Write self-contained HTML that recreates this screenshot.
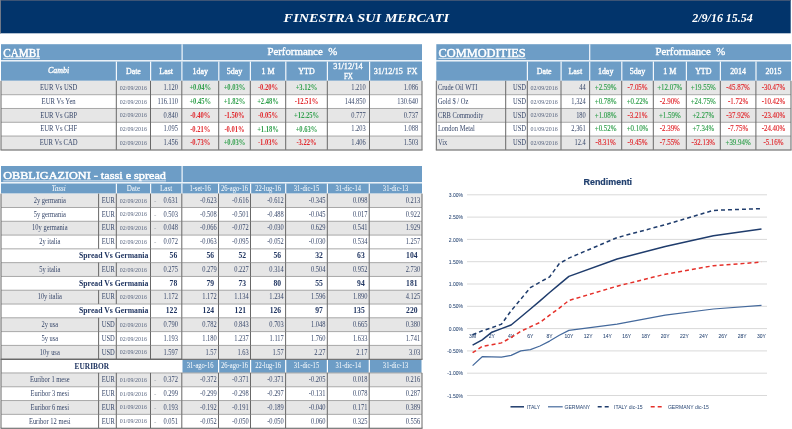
<!DOCTYPE html>
<html><head><meta charset="utf-8"><style>
html,body{margin:0;padding:0;background:#fff;}
body{width:792px;height:429px;overflow:hidden;}
svg{display:block;filter:blur(0.35px);font-family:"Liberation Serif",serif;}
</style></head><body>
<svg width="792" height="429" viewBox="0 0 792 429">
<rect x="0" y="0" width="792" height="429" fill="#fff"/>
<rect x="0" y="0" width="790.7" height="33.3" fill="#02346b"/>
<rect x="0" y="0" width="790.7" height="0.8" fill="#4d5d78"/>
<rect x="0" y="0" width="1" height="33.3" fill="#6f7888"/>
<text x="283.60" y="22.30" font-size="12.6" textLength="165.50" lengthAdjust="spacingAndGlyphs" font-weight="bold" font-style="italic" fill="#fff">FINESTRA SUI MERCATI</text>
<text x="692.30" y="22.30" font-size="12.8" textLength="60.50" lengthAdjust="spacingAndGlyphs" font-weight="bold" font-style="italic" fill="#fff">2/9/16 15.54</text>
<rect x="1" y="44.2" width="421" height="16.1" fill="#6d9dc6"/>
<rect x="1" y="60.3" width="421" height="1.2" fill="#f4f8fc"/>
<rect x="181.5" y="44.2" width="1.2" height="16.1" fill="#f4f8fc"/>
<text x="3.20" y="56.60" font-size="11.5" textLength="36.80" lengthAdjust="spacingAndGlyphs" font-weight="normal" fill="#fff" stroke="#fff" stroke-width="0.45">CAMBI</text>
<rect x="3.2" y="57.900000000000006" width="36.8" height="0.8" fill="#f4f8fc"/>
<text x="302.30" y="55.10" font-size="10.5" textLength="69.80" lengthAdjust="spacingAndGlyphs" text-anchor="middle" fill="#fff" stroke="#fff" stroke-width="0.35">Performance&#160; %</text>
<rect x="1" y="61.5" width="421" height="19.3" fill="#6d9dc6"/>
<rect x="115.8" y="61.5" width="1.2" height="19.3" fill="#f4f8fc"/>
<rect x="150.0" y="61.5" width="1.2" height="19.3" fill="#f4f8fc"/>
<rect x="181.3" y="61.5" width="1.2" height="19.3" fill="#f4f8fc"/>
<rect x="218.2" y="61.5" width="1.2" height="19.3" fill="#f4f8fc"/>
<rect x="249.8" y="61.5" width="1.2" height="19.3" fill="#f4f8fc"/>
<rect x="285.2" y="61.5" width="1.2" height="19.3" fill="#f4f8fc"/>
<rect x="326.8" y="61.5" width="1.2" height="19.3" fill="#f4f8fc"/>
<rect x="369.0" y="61.5" width="1.2" height="19.3" fill="#f4f8fc"/>
<text x="58.65" y="73.20" font-size="8.2" text-anchor="middle" font-style="italic" fill="#fff" stroke="#fff" stroke-width="0.35" textLength="21.21" lengthAdjust="spacingAndGlyphs">Cambi</text>
<text x="133.40" y="74.40" font-size="8.2" text-anchor="middle" fill="#fff" stroke="#fff" stroke-width="0.35" textLength="15.01" lengthAdjust="spacingAndGlyphs">Date</text>
<text x="166.15" y="74.40" font-size="8.2" text-anchor="middle" fill="#fff" stroke="#fff" stroke-width="0.35" textLength="13.69" lengthAdjust="spacingAndGlyphs">Last</text>
<text x="200.25" y="74.40" font-size="8.2" text-anchor="middle" fill="#fff" stroke="#fff" stroke-width="0.35" textLength="15.46" lengthAdjust="spacingAndGlyphs">1day</text>
<text x="234.50" y="74.40" font-size="8.2" text-anchor="middle" fill="#fff" stroke="#fff" stroke-width="0.35" textLength="15.46" lengthAdjust="spacingAndGlyphs">5day</text>
<text x="268.00" y="74.40" font-size="8.2" text-anchor="middle" fill="#fff" stroke="#fff" stroke-width="0.35" textLength="13.04" lengthAdjust="spacingAndGlyphs">1 M</text>
<text x="306.50" y="74.40" font-size="8.2" text-anchor="middle" fill="#fff" stroke="#fff" stroke-width="0.35" textLength="16.35" lengthAdjust="spacingAndGlyphs">YTD</text>
<text x="348.00" y="69.30" font-size="7.8" text-anchor="middle" fill="#fff" stroke="#fff" stroke-width="0.3" textLength="29.40" lengthAdjust="spacingAndGlyphs">31/12/14</text>
<text x="348.40" y="78.60" font-size="7.8" text-anchor="middle" fill="#fff" stroke="#fff" stroke-width="0.3" textLength="9.00" lengthAdjust="spacingAndGlyphs">FX</text>
<text x="373.70" y="73.90" font-size="7.8" textLength="43.80" lengthAdjust="spacingAndGlyphs" fill="#fff" stroke="#fff" stroke-width="0.3">31/12/15&#160; FX</text>
<rect x="1" y="80.8" width="421" height="13.79" fill="#e6e6e6"/>
<rect x="1" y="94.59" width="421" height="13.79" fill="#ffffff"/>
<rect x="1" y="108.38" width="421" height="13.79" fill="#e6e6e6"/>
<rect x="1" y="122.16999999999999" width="421" height="13.79" fill="#ffffff"/>
<rect x="1" y="135.95999999999998" width="421" height="13.79" fill="#e6e6e6"/>
<rect x="1" y="94.19" width="421" height="1.0" fill="#a8a8a8"/>
<rect x="1" y="107.97999999999999" width="421" height="1.0" fill="#a8a8a8"/>
<rect x="1" y="121.76999999999998" width="421" height="1.0" fill="#a8a8a8"/>
<rect x="1" y="135.55999999999997" width="421" height="1.0" fill="#a8a8a8"/>
<text x="58.65" y="90.10" font-size="7.4" text-anchor="middle" fill="#37476a" textLength="37.26" lengthAdjust="spacingAndGlyphs">EUR Vs USD</text>
<text x="133.40" y="89.80" font-size="5.3" text-anchor="middle" fill="#56637e" textLength="27.04" lengthAdjust="spacingAndGlyphs">02/09/2016</text>
<text x="178.00" y="90.10" font-size="7.4" text-anchor="end" fill="#37476a" textLength="14.49" lengthAdjust="spacingAndGlyphs">1.120</text>
<text x="200.25" y="90.30" font-size="7.8" text-anchor="middle" font-weight="bold" fill="#2f9f4b" textLength="21.75" lengthAdjust="spacingAndGlyphs">+0.04%</text>
<text x="234.50" y="90.30" font-size="7.8" text-anchor="middle" font-weight="bold" fill="#2f9f4b" textLength="21.75" lengthAdjust="spacingAndGlyphs">+0.03%</text>
<text x="268.00" y="90.30" font-size="7.8" text-anchor="middle" font-weight="bold" fill="#e1262b" textLength="20.20" lengthAdjust="spacingAndGlyphs">-0.20%</text>
<text x="306.50" y="90.30" font-size="7.8" text-anchor="middle" font-weight="bold" fill="#2f9f4b" textLength="21.75" lengthAdjust="spacingAndGlyphs">+3.12%</text>
<text x="365.70" y="90.10" font-size="7.4" text-anchor="end" fill="#37476a" textLength="14.49" lengthAdjust="spacingAndGlyphs">1.210</text>
<text x="418.20" y="90.10" font-size="7.4" text-anchor="end" fill="#37476a" textLength="14.49" lengthAdjust="spacingAndGlyphs">1.086</text>
<text x="58.65" y="103.89" font-size="7.4" text-anchor="middle" fill="#37476a" textLength="34.11" lengthAdjust="spacingAndGlyphs">EUR Vs Yen</text>
<text x="133.40" y="103.59" font-size="5.3" text-anchor="middle" fill="#56637e" textLength="27.04" lengthAdjust="spacingAndGlyphs">02/09/2016</text>
<text x="178.00" y="103.89" font-size="7.4" text-anchor="end" fill="#37476a" textLength="20.45" lengthAdjust="spacingAndGlyphs">116.110</text>
<text x="200.25" y="104.09" font-size="7.8" text-anchor="middle" font-weight="bold" fill="#2f9f4b" textLength="21.75" lengthAdjust="spacingAndGlyphs">+0.45%</text>
<text x="234.50" y="104.09" font-size="7.8" text-anchor="middle" font-weight="bold" fill="#2f9f4b" textLength="21.75" lengthAdjust="spacingAndGlyphs">+1.82%</text>
<text x="268.00" y="104.09" font-size="7.8" text-anchor="middle" font-weight="bold" fill="#2f9f4b" textLength="21.75" lengthAdjust="spacingAndGlyphs">+2.48%</text>
<text x="306.50" y="104.09" font-size="7.8" text-anchor="middle" font-weight="bold" fill="#e1262b" textLength="23.48" lengthAdjust="spacingAndGlyphs">-12.51%</text>
<text x="365.70" y="103.89" font-size="7.4" text-anchor="end" fill="#37476a" textLength="20.92" lengthAdjust="spacingAndGlyphs">144.850</text>
<text x="418.20" y="103.89" font-size="7.4" text-anchor="end" fill="#37476a" textLength="20.92" lengthAdjust="spacingAndGlyphs">130.640</text>
<text x="58.65" y="117.68" font-size="7.4" text-anchor="middle" fill="#37476a" textLength="36.89" lengthAdjust="spacingAndGlyphs">EUR Vs GBP</text>
<text x="133.40" y="117.38" font-size="5.3" text-anchor="middle" fill="#56637e" textLength="27.04" lengthAdjust="spacingAndGlyphs">02/09/2016</text>
<text x="178.00" y="117.68" font-size="7.4" text-anchor="end" fill="#37476a" textLength="14.49" lengthAdjust="spacingAndGlyphs">0.840</text>
<text x="200.25" y="117.88" font-size="7.8" text-anchor="middle" font-weight="bold" fill="#e1262b" textLength="20.20" lengthAdjust="spacingAndGlyphs">-0.40%</text>
<text x="234.50" y="117.88" font-size="7.8" text-anchor="middle" font-weight="bold" fill="#e1262b" textLength="20.20" lengthAdjust="spacingAndGlyphs">-1.50%</text>
<text x="268.00" y="117.88" font-size="7.8" text-anchor="middle" font-weight="bold" fill="#e1262b" textLength="20.20" lengthAdjust="spacingAndGlyphs">-0.05%</text>
<text x="306.50" y="117.88" font-size="7.8" text-anchor="middle" font-weight="bold" fill="#2f9f4b" textLength="25.03" lengthAdjust="spacingAndGlyphs">+12.25%</text>
<text x="365.70" y="117.68" font-size="7.4" text-anchor="end" fill="#37476a" textLength="14.49" lengthAdjust="spacingAndGlyphs">0.777</text>
<text x="418.20" y="117.68" font-size="7.4" text-anchor="end" fill="#37476a" textLength="14.49" lengthAdjust="spacingAndGlyphs">0.737</text>
<text x="58.65" y="131.47" font-size="7.4" text-anchor="middle" fill="#37476a" textLength="36.89" lengthAdjust="spacingAndGlyphs">EUR Vs CHF</text>
<text x="133.40" y="131.17" font-size="5.3" text-anchor="middle" fill="#56637e" textLength="27.04" lengthAdjust="spacingAndGlyphs">02/09/2016</text>
<text x="178.00" y="131.47" font-size="7.4" text-anchor="end" fill="#37476a" textLength="14.49" lengthAdjust="spacingAndGlyphs">1.095</text>
<text x="200.25" y="131.67" font-size="7.8" text-anchor="middle" font-weight="bold" fill="#e1262b" textLength="20.20" lengthAdjust="spacingAndGlyphs">-0.21%</text>
<text x="234.50" y="131.67" font-size="7.8" text-anchor="middle" font-weight="bold" fill="#e1262b" textLength="20.20" lengthAdjust="spacingAndGlyphs">-0.01%</text>
<text x="268.00" y="131.67" font-size="7.8" text-anchor="middle" font-weight="bold" fill="#2f9f4b" textLength="21.75" lengthAdjust="spacingAndGlyphs">+1.18%</text>
<text x="306.50" y="131.67" font-size="7.8" text-anchor="middle" font-weight="bold" fill="#2f9f4b" textLength="21.75" lengthAdjust="spacingAndGlyphs">+0.63%</text>
<text x="365.70" y="131.47" font-size="7.4" text-anchor="end" fill="#37476a" textLength="14.49" lengthAdjust="spacingAndGlyphs">1.203</text>
<text x="418.20" y="131.47" font-size="7.4" text-anchor="end" fill="#37476a" textLength="14.49" lengthAdjust="spacingAndGlyphs">1.088</text>
<text x="58.65" y="145.26" font-size="7.4" text-anchor="middle" fill="#37476a" textLength="37.99" lengthAdjust="spacingAndGlyphs">EUR Vs CAD</text>
<text x="133.40" y="144.96" font-size="5.3" text-anchor="middle" fill="#56637e" textLength="27.04" lengthAdjust="spacingAndGlyphs">02/09/2016</text>
<text x="178.00" y="145.26" font-size="7.4" text-anchor="end" fill="#37476a" textLength="14.49" lengthAdjust="spacingAndGlyphs">1.456</text>
<text x="200.25" y="145.46" font-size="7.8" text-anchor="middle" font-weight="bold" fill="#e1262b" textLength="20.20" lengthAdjust="spacingAndGlyphs">-0.73%</text>
<text x="234.50" y="145.46" font-size="7.8" text-anchor="middle" font-weight="bold" fill="#2f9f4b" textLength="21.75" lengthAdjust="spacingAndGlyphs">+0.03%</text>
<text x="268.00" y="145.46" font-size="7.8" text-anchor="middle" font-weight="bold" fill="#e1262b" textLength="20.20" lengthAdjust="spacingAndGlyphs">-1.03%</text>
<text x="306.50" y="145.46" font-size="7.8" text-anchor="middle" font-weight="bold" fill="#e1262b" textLength="20.20" lengthAdjust="spacingAndGlyphs">-3.22%</text>
<text x="365.70" y="145.26" font-size="7.4" text-anchor="end" fill="#37476a" textLength="14.49" lengthAdjust="spacingAndGlyphs">1.406</text>
<text x="418.20" y="145.26" font-size="7.4" text-anchor="end" fill="#37476a" textLength="14.49" lengthAdjust="spacingAndGlyphs">1.503</text>
<rect x="0.5" y="80.8" width="1.0" height="68.95" fill="#686868"/>
<rect x="115.8" y="80.8" width="1.0" height="68.95" fill="#686868"/>
<rect x="150.0" y="80.8" width="1.0" height="68.95" fill="#686868"/>
<rect x="181.3" y="80.8" width="1.0" height="68.95" fill="#686868"/>
<rect x="218.2" y="80.8" width="1.0" height="68.95" fill="#686868"/>
<rect x="249.8" y="80.8" width="1.0" height="68.95" fill="#686868"/>
<rect x="285.2" y="80.8" width="1.0" height="68.95" fill="#686868"/>
<rect x="326.8" y="80.8" width="1.0" height="68.95" fill="#686868"/>
<rect x="369.0" y="80.8" width="1.0" height="68.95" fill="#686868"/>
<rect x="421.5" y="80.8" width="1.0" height="68.95" fill="#686868"/>
<rect x="0.5" y="149.45" width="422.1" height="1.1" fill="#686868"/>
<rect x="436.3" y="44.2" width="354.7" height="16.1" fill="#6d9dc6"/>
<rect x="436.3" y="60.3" width="354.7" height="1.2" fill="#f4f8fc"/>
<rect x="589.1" y="44.2" width="1.2" height="16.1" fill="#f4f8fc"/>
<text x="438.50" y="56.60" font-size="11.5" textLength="87.20" lengthAdjust="spacingAndGlyphs" font-weight="normal" fill="#fff" stroke="#fff" stroke-width="0.45">COMMODITIES</text>
<rect x="438.5" y="57.900000000000006" width="87.2" height="0.8" fill="#f4f8fc"/>
<text x="690.30" y="55.10" font-size="10.5" textLength="69.80" lengthAdjust="spacingAndGlyphs" text-anchor="middle" fill="#fff" stroke="#fff" stroke-width="0.35">Performance&#160; %</text>
<rect x="436.3" y="61.5" width="354.7" height="19.3" fill="#6d9dc6"/>
<rect x="526.8" y="61.5" width="1.2" height="19.3" fill="#f4f8fc"/>
<rect x="560.5" y="61.5" width="1.2" height="19.3" fill="#f4f8fc"/>
<rect x="589.1" y="61.5" width="1.2" height="19.3" fill="#f4f8fc"/>
<rect x="621.2" y="61.5" width="1.2" height="19.3" fill="#f4f8fc"/>
<rect x="652.8" y="61.5" width="1.2" height="19.3" fill="#f4f8fc"/>
<rect x="685.8" y="61.5" width="1.2" height="19.3" fill="#f4f8fc"/>
<rect x="719.8" y="61.5" width="1.2" height="19.3" fill="#f4f8fc"/>
<rect x="755.4" y="61.5" width="1.2" height="19.3" fill="#f4f8fc"/>
<text x="544.15" y="74.40" font-size="8.2" text-anchor="middle" fill="#fff" stroke="#fff" stroke-width="0.35" textLength="15.01" lengthAdjust="spacingAndGlyphs">Date</text>
<text x="575.30" y="74.40" font-size="8.2" text-anchor="middle" fill="#fff" stroke="#fff" stroke-width="0.35" textLength="13.69" lengthAdjust="spacingAndGlyphs">Last</text>
<text x="605.65" y="74.40" font-size="8.2" text-anchor="middle" fill="#fff" stroke="#fff" stroke-width="0.35" textLength="15.46" lengthAdjust="spacingAndGlyphs">1day</text>
<text x="637.50" y="74.40" font-size="8.2" text-anchor="middle" fill="#fff" stroke="#fff" stroke-width="0.35" textLength="15.46" lengthAdjust="spacingAndGlyphs">5day</text>
<text x="669.80" y="74.40" font-size="8.2" text-anchor="middle" fill="#fff" stroke="#fff" stroke-width="0.35" textLength="13.04" lengthAdjust="spacingAndGlyphs">1 M</text>
<text x="703.30" y="74.40" font-size="8.2" text-anchor="middle" fill="#fff" stroke="#fff" stroke-width="0.35" textLength="16.35" lengthAdjust="spacingAndGlyphs">YTD</text>
<text x="738.10" y="74.40" font-size="8.2" text-anchor="middle" fill="#fff" stroke="#fff" stroke-width="0.35" textLength="15.91" lengthAdjust="spacingAndGlyphs">2014</text>
<text x="773.45" y="74.40" font-size="8.2" text-anchor="middle" fill="#fff" stroke="#fff" stroke-width="0.35" textLength="15.91" lengthAdjust="spacingAndGlyphs">2015</text>
<rect x="436.3" y="80.8" width="354.7" height="13.79" fill="#e6e6e6"/>
<rect x="436.3" y="94.59" width="354.7" height="13.79" fill="#ffffff"/>
<rect x="436.3" y="108.38" width="354.7" height="13.79" fill="#e6e6e6"/>
<rect x="436.3" y="122.16999999999999" width="354.7" height="13.79" fill="#ffffff"/>
<rect x="436.3" y="135.95999999999998" width="354.7" height="13.79" fill="#e6e6e6"/>
<rect x="436.3" y="94.19" width="354.7" height="1.0" fill="#a8a8a8"/>
<rect x="436.3" y="107.97999999999999" width="354.7" height="1.0" fill="#a8a8a8"/>
<rect x="436.3" y="121.76999999999998" width="354.7" height="1.0" fill="#a8a8a8"/>
<rect x="436.3" y="135.55999999999997" width="354.7" height="1.0" fill="#a8a8a8"/>
<text x="437.90" y="90.10" font-size="7.2" fill="#37476a" textLength="39.47" lengthAdjust="spacingAndGlyphs">Crude Oil WTI</text>
<text x="526.00" y="90.10" font-size="7.6" text-anchor="end" fill="#37476a" textLength="13.08" lengthAdjust="spacingAndGlyphs">USD</text>
<text x="544.15" y="89.80" font-size="5.3" text-anchor="middle" fill="#56637e" textLength="27.04" lengthAdjust="spacingAndGlyphs">02/09/2016</text>
<text x="585.80" y="90.10" font-size="7.4" text-anchor="end" fill="#37476a" textLength="6.44" lengthAdjust="spacingAndGlyphs">44</text>
<text x="605.65" y="90.10" font-size="8.2" text-anchor="middle" fill="#2f9f4b" stroke="#2f9f4b" stroke-width="0.15" textLength="21.68" lengthAdjust="spacingAndGlyphs">+2.59%</text>
<text x="637.50" y="90.10" font-size="8.2" text-anchor="middle" fill="#e1262b" stroke="#e1262b" stroke-width="0.15" textLength="20.09" lengthAdjust="spacingAndGlyphs">-7.05%</text>
<text x="669.80" y="90.10" font-size="8.2" text-anchor="middle" fill="#2f9f4b" stroke="#2f9f4b" stroke-width="0.15" textLength="25.12" lengthAdjust="spacingAndGlyphs">+12.07%</text>
<text x="703.30" y="90.10" font-size="8.2" text-anchor="middle" fill="#2f9f4b" stroke="#2f9f4b" stroke-width="0.15" textLength="25.12" lengthAdjust="spacingAndGlyphs">+19.55%</text>
<text x="738.10" y="90.10" font-size="8.2" text-anchor="middle" fill="#e1262b" stroke="#e1262b" stroke-width="0.15" textLength="23.53" lengthAdjust="spacingAndGlyphs">-45.87%</text>
<text x="773.45" y="90.10" font-size="8.2" text-anchor="middle" fill="#e1262b" stroke="#e1262b" stroke-width="0.15" textLength="23.53" lengthAdjust="spacingAndGlyphs">-30.47%</text>
<text x="437.90" y="103.89" font-size="7.2" fill="#37476a" textLength="30.42" lengthAdjust="spacingAndGlyphs">Gold $ / Oz</text>
<text x="526.00" y="103.89" font-size="7.6" text-anchor="end" fill="#37476a" textLength="13.08" lengthAdjust="spacingAndGlyphs">USD</text>
<text x="544.15" y="103.59" font-size="5.3" text-anchor="middle" fill="#56637e" textLength="27.04" lengthAdjust="spacingAndGlyphs">02/09/2016</text>
<text x="585.80" y="103.89" font-size="7.4" text-anchor="end" fill="#37476a" textLength="14.49" lengthAdjust="spacingAndGlyphs">1,324</text>
<text x="605.65" y="103.89" font-size="8.2" text-anchor="middle" fill="#2f9f4b" stroke="#2f9f4b" stroke-width="0.15" textLength="21.68" lengthAdjust="spacingAndGlyphs">+0.78%</text>
<text x="637.50" y="103.89" font-size="8.2" text-anchor="middle" fill="#2f9f4b" stroke="#2f9f4b" stroke-width="0.15" textLength="21.68" lengthAdjust="spacingAndGlyphs">+0.22%</text>
<text x="669.80" y="103.89" font-size="8.2" text-anchor="middle" fill="#e1262b" stroke="#e1262b" stroke-width="0.15" textLength="20.09" lengthAdjust="spacingAndGlyphs">-2.90%</text>
<text x="703.30" y="103.89" font-size="8.2" text-anchor="middle" fill="#2f9f4b" stroke="#2f9f4b" stroke-width="0.15" textLength="25.12" lengthAdjust="spacingAndGlyphs">+24.75%</text>
<text x="738.10" y="103.89" font-size="8.2" text-anchor="middle" fill="#e1262b" stroke="#e1262b" stroke-width="0.15" textLength="20.09" lengthAdjust="spacingAndGlyphs">-1.72%</text>
<text x="773.45" y="103.89" font-size="8.2" text-anchor="middle" fill="#e1262b" stroke="#e1262b" stroke-width="0.15" textLength="23.53" lengthAdjust="spacingAndGlyphs">-10.42%</text>
<text x="437.90" y="117.68" font-size="7.2" fill="#37476a" textLength="45.55" lengthAdjust="spacingAndGlyphs">CRB Commodity</text>
<text x="526.00" y="117.68" font-size="7.6" text-anchor="end" fill="#37476a" textLength="13.08" lengthAdjust="spacingAndGlyphs">USD</text>
<text x="544.15" y="117.38" font-size="5.3" text-anchor="middle" fill="#56637e" textLength="27.04" lengthAdjust="spacingAndGlyphs">02/09/2016</text>
<text x="585.80" y="117.68" font-size="7.4" text-anchor="end" fill="#37476a" textLength="9.66" lengthAdjust="spacingAndGlyphs">180</text>
<text x="605.65" y="117.68" font-size="8.2" text-anchor="middle" fill="#2f9f4b" stroke="#2f9f4b" stroke-width="0.15" textLength="21.68" lengthAdjust="spacingAndGlyphs">+1.08%</text>
<text x="637.50" y="117.68" font-size="8.2" text-anchor="middle" fill="#e1262b" stroke="#e1262b" stroke-width="0.15" textLength="20.09" lengthAdjust="spacingAndGlyphs">-3.21%</text>
<text x="669.80" y="117.68" font-size="8.2" text-anchor="middle" fill="#2f9f4b" stroke="#2f9f4b" stroke-width="0.15" textLength="21.68" lengthAdjust="spacingAndGlyphs">+1.59%</text>
<text x="703.30" y="117.68" font-size="8.2" text-anchor="middle" fill="#2f9f4b" stroke="#2f9f4b" stroke-width="0.15" textLength="21.68" lengthAdjust="spacingAndGlyphs">+2.27%</text>
<text x="738.10" y="117.68" font-size="8.2" text-anchor="middle" fill="#e1262b" stroke="#e1262b" stroke-width="0.15" textLength="23.53" lengthAdjust="spacingAndGlyphs">-37.92%</text>
<text x="773.45" y="117.68" font-size="8.2" text-anchor="middle" fill="#e1262b" stroke="#e1262b" stroke-width="0.15" textLength="23.53" lengthAdjust="spacingAndGlyphs">-23.40%</text>
<text x="437.90" y="131.47" font-size="7.2" fill="#37476a" textLength="36.89" lengthAdjust="spacingAndGlyphs">London Metal</text>
<text x="526.00" y="131.47" font-size="7.6" text-anchor="end" fill="#37476a" textLength="13.08" lengthAdjust="spacingAndGlyphs">USD</text>
<text x="544.15" y="131.17" font-size="5.3" text-anchor="middle" fill="#56637e" textLength="27.04" lengthAdjust="spacingAndGlyphs">01/09/2016</text>
<text x="585.80" y="131.47" font-size="7.4" text-anchor="end" fill="#37476a" textLength="14.49" lengthAdjust="spacingAndGlyphs">2,361</text>
<text x="605.65" y="131.47" font-size="8.2" text-anchor="middle" fill="#2f9f4b" stroke="#2f9f4b" stroke-width="0.15" textLength="21.68" lengthAdjust="spacingAndGlyphs">+0.52%</text>
<text x="637.50" y="131.47" font-size="8.2" text-anchor="middle" fill="#2f9f4b" stroke="#2f9f4b" stroke-width="0.15" textLength="21.68" lengthAdjust="spacingAndGlyphs">+0.10%</text>
<text x="669.80" y="131.47" font-size="8.2" text-anchor="middle" fill="#e1262b" stroke="#e1262b" stroke-width="0.15" textLength="20.09" lengthAdjust="spacingAndGlyphs">-2.39%</text>
<text x="703.30" y="131.47" font-size="8.2" text-anchor="middle" fill="#2f9f4b" stroke="#2f9f4b" stroke-width="0.15" textLength="21.68" lengthAdjust="spacingAndGlyphs">+7.34%</text>
<text x="738.10" y="131.47" font-size="8.2" text-anchor="middle" fill="#e1262b" stroke="#e1262b" stroke-width="0.15" textLength="20.09" lengthAdjust="spacingAndGlyphs">-7.75%</text>
<text x="773.45" y="131.47" font-size="8.2" text-anchor="middle" fill="#e1262b" stroke="#e1262b" stroke-width="0.15" textLength="23.53" lengthAdjust="spacingAndGlyphs">-24.40%</text>
<text x="437.90" y="145.26" font-size="7.2" fill="#37476a" textLength="9.33" lengthAdjust="spacingAndGlyphs">Vix</text>
<text x="526.00" y="145.26" font-size="7.6" text-anchor="end" fill="#37476a" textLength="13.08" lengthAdjust="spacingAndGlyphs">USD</text>
<text x="544.15" y="144.96" font-size="5.3" text-anchor="middle" fill="#56637e" textLength="27.04" lengthAdjust="spacingAndGlyphs">02/09/2016</text>
<text x="585.80" y="145.26" font-size="7.4" text-anchor="end" fill="#37476a" textLength="11.27" lengthAdjust="spacingAndGlyphs">12.4</text>
<text x="605.65" y="145.26" font-size="8.2" text-anchor="middle" fill="#e1262b" stroke="#e1262b" stroke-width="0.15" textLength="20.09" lengthAdjust="spacingAndGlyphs">-8.31%</text>
<text x="637.50" y="145.26" font-size="8.2" text-anchor="middle" fill="#e1262b" stroke="#e1262b" stroke-width="0.15" textLength="20.09" lengthAdjust="spacingAndGlyphs">-9.45%</text>
<text x="669.80" y="145.26" font-size="8.2" text-anchor="middle" fill="#e1262b" stroke="#e1262b" stroke-width="0.15" textLength="20.09" lengthAdjust="spacingAndGlyphs">-7.55%</text>
<text x="703.30" y="145.26" font-size="8.2" text-anchor="middle" fill="#e1262b" stroke="#e1262b" stroke-width="0.15" textLength="23.53" lengthAdjust="spacingAndGlyphs">-32.13%</text>
<text x="738.10" y="145.26" font-size="8.2" text-anchor="middle" fill="#2f9f4b" stroke="#2f9f4b" stroke-width="0.15" textLength="25.12" lengthAdjust="spacingAndGlyphs">+39.94%</text>
<text x="773.45" y="145.26" font-size="8.2" text-anchor="middle" fill="#e1262b" stroke="#e1262b" stroke-width="0.15" textLength="20.09" lengthAdjust="spacingAndGlyphs">-5.16%</text>
<rect x="435.8" y="80.8" width="1.0" height="68.95" fill="#686868"/>
<rect x="505.2" y="80.8" width="1.0" height="68.95" fill="#686868"/>
<rect x="526.8" y="80.8" width="1.0" height="68.95" fill="#686868"/>
<rect x="560.5" y="80.8" width="1.0" height="68.95" fill="#686868"/>
<rect x="589.1" y="80.8" width="1.0" height="68.95" fill="#686868"/>
<rect x="621.2" y="80.8" width="1.0" height="68.95" fill="#686868"/>
<rect x="652.8" y="80.8" width="1.0" height="68.95" fill="#686868"/>
<rect x="685.8" y="80.8" width="1.0" height="68.95" fill="#686868"/>
<rect x="719.8" y="80.8" width="1.0" height="68.95" fill="#686868"/>
<rect x="755.4" y="80.8" width="1.0" height="68.95" fill="#686868"/>
<rect x="790.5" y="80.8" width="1.0" height="68.95" fill="#686868"/>
<rect x="435.8" y="149.45" width="355.8" height="1.1" fill="#686868"/>
<rect x="1" y="166" width="421" height="16.3" fill="#6d9dc6"/>
<rect x="1" y="182.3" width="421" height="1.2" fill="#f4f8fc"/>
<rect x="181.5" y="166" width="1.2" height="16.3" fill="#f4f8fc"/>
<text x="3.20" y="178.70" font-size="10.4" textLength="162.80" lengthAdjust="spacingAndGlyphs" font-weight="normal" fill="#fff" stroke="#fff" stroke-width="0.45">OBBLIGAZIONI - tassi e spread</text>
<rect x="3.2" y="180.5" width="162.8" height="0.8" fill="#f4f8fc"/>
<rect x="1" y="183.5" width="421" height="10.1" fill="#6d9dc6"/>
<rect x="115.8" y="183.5" width="1.2" height="10.1" fill="#f4f8fc"/>
<rect x="150.0" y="183.5" width="1.2" height="10.1" fill="#f4f8fc"/>
<rect x="181.3" y="183.5" width="1.2" height="10.1" fill="#f4f8fc"/>
<rect x="218.0" y="183.5" width="1.2" height="10.1" fill="#f4f8fc"/>
<rect x="250.0" y="183.5" width="1.2" height="10.1" fill="#f4f8fc"/>
<rect x="285.1" y="183.5" width="1.2" height="10.1" fill="#f4f8fc"/>
<rect x="326.8" y="183.5" width="1.2" height="10.1" fill="#f4f8fc"/>
<rect x="368.7" y="183.5" width="1.2" height="10.1" fill="#f4f8fc"/>
<text x="58.65" y="191.30" font-size="7.5" text-anchor="middle" font-style="italic" fill="#fff" textLength="14.40" lengthAdjust="spacingAndGlyphs">Tassi</text>
<text x="133.40" y="191.30" font-size="7.5" text-anchor="middle" fill="#fff" textLength="13.45" lengthAdjust="spacingAndGlyphs">Date</text>
<text x="166.15" y="191.30" font-size="7.5" text-anchor="middle" fill="#fff" textLength="12.27" lengthAdjust="spacingAndGlyphs">Last</text>
<text x="200.15" y="191.20" font-size="7.8" text-anchor="middle" fill="#fff" textLength="21.47" lengthAdjust="spacingAndGlyphs">1-set-16</text>
<text x="234.50" y="191.20" font-size="7.8" text-anchor="middle" fill="#fff" textLength="26.93" lengthAdjust="spacingAndGlyphs">26-ago-16</text>
<text x="268.05" y="191.20" font-size="7.8" text-anchor="middle" fill="#fff" textLength="25.84" lengthAdjust="spacingAndGlyphs">22-lug-16</text>
<text x="306.45" y="191.20" font-size="7.8" text-anchor="middle" fill="#fff" textLength="25.47" lengthAdjust="spacingAndGlyphs">31-dic-15</text>
<text x="348.25" y="191.20" font-size="7.8" text-anchor="middle" fill="#fff" textLength="25.47" lengthAdjust="spacingAndGlyphs">31-dic-14</text>
<text x="395.60" y="191.20" font-size="7.8" text-anchor="middle" fill="#fff" textLength="25.47" lengthAdjust="spacingAndGlyphs">31-dic-13</text>
<rect x="1" y="193.6" width="421" height="13.79" fill="#e6e6e6"/>
<rect x="1" y="207.39" width="421" height="13.79" fill="#ffffff"/>
<rect x="1" y="221.18" width="421" height="13.79" fill="#e6e6e6"/>
<rect x="1" y="234.97" width="421" height="13.79" fill="#ffffff"/>
<rect x="1" y="248.76" width="421" height="13.79" fill="#ffffff"/>
<rect x="1" y="262.54999999999995" width="421" height="13.79" fill="#e6e6e6"/>
<rect x="1" y="276.34" width="421" height="13.79" fill="#ffffff"/>
<rect x="1" y="290.13" width="421" height="13.79" fill="#e6e6e6"/>
<rect x="1" y="303.91999999999996" width="421" height="13.79" fill="#ffffff"/>
<rect x="1" y="317.71" width="421" height="13.79" fill="#e6e6e6"/>
<rect x="1" y="331.5" width="421" height="13.79" fill="#ffffff"/>
<rect x="1" y="345.28999999999996" width="421" height="13.79" fill="#e6e6e6"/>
<rect x="1" y="359.08" width="421" height="13.79" fill="#ffffff"/>
<rect x="1" y="372.87" width="421" height="13.79" fill="#e6e6e6"/>
<rect x="1" y="386.65999999999997" width="421" height="13.79" fill="#ffffff"/>
<rect x="1" y="400.45" width="421" height="13.79" fill="#e6e6e6"/>
<rect x="1" y="414.24" width="421" height="13.79" fill="#ffffff"/>
<rect x="1" y="206.98999999999998" width="421" height="1.0" fill="#a8a8a8"/>
<rect x="1" y="220.78" width="421" height="1.0" fill="#a8a8a8"/>
<rect x="1" y="234.57" width="421" height="1.0" fill="#a8a8a8"/>
<rect x="1" y="248.35999999999999" width="421" height="1.0" fill="#a8a8a8"/>
<rect x="1" y="262.15" width="421" height="1.0" fill="#a8a8a8"/>
<rect x="1" y="275.94" width="421" height="1.0" fill="#a8a8a8"/>
<rect x="1" y="289.73" width="421" height="1.0" fill="#a8a8a8"/>
<rect x="1" y="303.52" width="421" height="1.0" fill="#a8a8a8"/>
<rect x="1" y="317.31" width="421" height="1.0" fill="#a8a8a8"/>
<rect x="1" y="331.1" width="421" height="1.0" fill="#a8a8a8"/>
<rect x="1" y="344.89" width="421" height="1.0" fill="#a8a8a8"/>
<rect x="1" y="386.26" width="421" height="1.0" fill="#a8a8a8"/>
<rect x="1" y="400.05" width="421" height="1.0" fill="#a8a8a8"/>
<rect x="1" y="413.84000000000003" width="421" height="1.0" fill="#a8a8a8"/>
<rect x="182.5" y="359.58" width="35.5" height="13.29" fill="#6d9dc6"/>
<rect x="219.2" y="359.58" width="30.8" height="13.29" fill="#6d9dc6"/>
<rect x="251.2" y="359.58" width="33.9" height="13.29" fill="#6d9dc6"/>
<rect x="286.3" y="359.58" width="40.5" height="13.29" fill="#6d9dc6"/>
<rect x="328.0" y="359.58" width="40.7" height="13.29" fill="#6d9dc6"/>
<rect x="369.9" y="359.58" width="51.6" height="13.29" fill="#6d9dc6"/>
<rect x="1" y="358.68" width="181" height="1.2" fill="#686868"/>
<rect x="1" y="372.47" width="421" height="1.0" fill="#a8a8a8"/>
<text x="49.80" y="202.90" font-size="7.2" text-anchor="middle" fill="#37476a" textLength="32.21" lengthAdjust="spacingAndGlyphs">2y germania</text>
<text x="114.80" y="202.90" font-size="7.4" text-anchor="end" fill="#37476a" textLength="13.02" lengthAdjust="spacingAndGlyphs">EUR</text>
<text x="133.40" y="202.60" font-size="5.3" text-anchor="middle" fill="#56637e" textLength="27.04" lengthAdjust="spacingAndGlyphs">02/09/2016</text>
<text x="154.00" y="202.90" font-size="7" fill="#9aa0aa">-</text>
<text x="178.00" y="202.90" font-size="7.4" text-anchor="end" fill="#37476a" textLength="14.49" lengthAdjust="spacingAndGlyphs">0.631</text>
<text x="216.70" y="202.90" font-size="7.4" text-anchor="end" fill="#37476a" textLength="16.63" lengthAdjust="spacingAndGlyphs">-0.623</text>
<text x="248.70" y="202.90" font-size="7.4" text-anchor="end" fill="#37476a" textLength="16.63" lengthAdjust="spacingAndGlyphs">-0.616</text>
<text x="283.80" y="202.90" font-size="7.4" text-anchor="end" fill="#37476a" textLength="16.63" lengthAdjust="spacingAndGlyphs">-0.612</text>
<text x="325.50" y="202.90" font-size="7.4" text-anchor="end" fill="#37476a" textLength="16.63" lengthAdjust="spacingAndGlyphs">-0.345</text>
<text x="367.40" y="202.90" font-size="7.4" text-anchor="end" fill="#37476a" textLength="14.49" lengthAdjust="spacingAndGlyphs">0.098</text>
<text x="420.20" y="202.90" font-size="7.4" text-anchor="end" fill="#37476a" textLength="14.49" lengthAdjust="spacingAndGlyphs">0.213</text>
<rect x="0.5" y="193.6" width="1.0" height="13.79" fill="#686868"/>
<rect x="98.1" y="193.6" width="1.0" height="13.79" fill="#686868"/>
<rect x="115.8" y="193.6" width="1.0" height="13.79" fill="#686868"/>
<rect x="150.0" y="193.6" width="1.0" height="13.79" fill="#686868"/>
<rect x="181.3" y="193.6" width="1.0" height="13.79" fill="#686868"/>
<rect x="218.0" y="193.6" width="1.0" height="13.79" fill="#686868"/>
<rect x="250.0" y="193.6" width="1.0" height="13.79" fill="#686868"/>
<rect x="285.1" y="193.6" width="1.0" height="13.79" fill="#686868"/>
<rect x="326.8" y="193.6" width="1.0" height="13.79" fill="#686868"/>
<rect x="368.7" y="193.6" width="1.0" height="13.79" fill="#686868"/>
<rect x="421.5" y="193.6" width="1.0" height="13.79" fill="#686868"/>
<text x="49.80" y="216.69" font-size="7.2" text-anchor="middle" fill="#37476a" textLength="32.21" lengthAdjust="spacingAndGlyphs">5y germania</text>
<text x="114.80" y="216.69" font-size="7.4" text-anchor="end" fill="#37476a" textLength="13.02" lengthAdjust="spacingAndGlyphs">EUR</text>
<text x="133.40" y="216.39" font-size="5.3" text-anchor="middle" fill="#56637e" textLength="27.04" lengthAdjust="spacingAndGlyphs">02/09/2016</text>
<text x="154.00" y="216.69" font-size="7" fill="#9aa0aa">-</text>
<text x="178.00" y="216.69" font-size="7.4" text-anchor="end" fill="#37476a" textLength="14.49" lengthAdjust="spacingAndGlyphs">0.503</text>
<text x="216.70" y="216.69" font-size="7.4" text-anchor="end" fill="#37476a" textLength="16.63" lengthAdjust="spacingAndGlyphs">-0.508</text>
<text x="248.70" y="216.69" font-size="7.4" text-anchor="end" fill="#37476a" textLength="16.63" lengthAdjust="spacingAndGlyphs">-0.501</text>
<text x="283.80" y="216.69" font-size="7.4" text-anchor="end" fill="#37476a" textLength="16.63" lengthAdjust="spacingAndGlyphs">-0.488</text>
<text x="325.50" y="216.69" font-size="7.4" text-anchor="end" fill="#37476a" textLength="16.63" lengthAdjust="spacingAndGlyphs">-0.045</text>
<text x="367.40" y="216.69" font-size="7.4" text-anchor="end" fill="#37476a" textLength="14.49" lengthAdjust="spacingAndGlyphs">0.017</text>
<text x="420.20" y="216.69" font-size="7.4" text-anchor="end" fill="#37476a" textLength="14.49" lengthAdjust="spacingAndGlyphs">0.922</text>
<rect x="0.5" y="207.39" width="1.0" height="13.79" fill="#686868"/>
<rect x="98.1" y="207.39" width="1.0" height="13.79" fill="#686868"/>
<rect x="115.8" y="207.39" width="1.0" height="13.79" fill="#686868"/>
<rect x="150.0" y="207.39" width="1.0" height="13.79" fill="#686868"/>
<rect x="181.3" y="207.39" width="1.0" height="13.79" fill="#686868"/>
<rect x="218.0" y="207.39" width="1.0" height="13.79" fill="#686868"/>
<rect x="250.0" y="207.39" width="1.0" height="13.79" fill="#686868"/>
<rect x="285.1" y="207.39" width="1.0" height="13.79" fill="#686868"/>
<rect x="326.8" y="207.39" width="1.0" height="13.79" fill="#686868"/>
<rect x="368.7" y="207.39" width="1.0" height="13.79" fill="#686868"/>
<rect x="421.5" y="207.39" width="1.0" height="13.79" fill="#686868"/>
<text x="49.80" y="230.48" font-size="7.2" text-anchor="middle" fill="#37476a" textLength="35.45" lengthAdjust="spacingAndGlyphs">10y germania</text>
<text x="114.80" y="230.48" font-size="7.4" text-anchor="end" fill="#37476a" textLength="13.02" lengthAdjust="spacingAndGlyphs">EUR</text>
<text x="133.40" y="230.18" font-size="5.3" text-anchor="middle" fill="#56637e" textLength="27.04" lengthAdjust="spacingAndGlyphs">02/09/2016</text>
<text x="154.00" y="230.48" font-size="7" fill="#9aa0aa">-</text>
<text x="178.00" y="230.48" font-size="7.4" text-anchor="end" fill="#37476a" textLength="14.49" lengthAdjust="spacingAndGlyphs">0.048</text>
<text x="216.70" y="230.48" font-size="7.4" text-anchor="end" fill="#37476a" textLength="16.63" lengthAdjust="spacingAndGlyphs">-0.066</text>
<text x="248.70" y="230.48" font-size="7.4" text-anchor="end" fill="#37476a" textLength="16.63" lengthAdjust="spacingAndGlyphs">-0.072</text>
<text x="283.80" y="230.48" font-size="7.4" text-anchor="end" fill="#37476a" textLength="16.63" lengthAdjust="spacingAndGlyphs">-0.030</text>
<text x="325.50" y="230.48" font-size="7.4" text-anchor="end" fill="#37476a" textLength="14.49" lengthAdjust="spacingAndGlyphs">0.629</text>
<text x="367.40" y="230.48" font-size="7.4" text-anchor="end" fill="#37476a" textLength="14.49" lengthAdjust="spacingAndGlyphs">0.541</text>
<text x="420.20" y="230.48" font-size="7.4" text-anchor="end" fill="#37476a" textLength="14.49" lengthAdjust="spacingAndGlyphs">1.929</text>
<rect x="0.5" y="221.18" width="1.0" height="13.79" fill="#686868"/>
<rect x="98.1" y="221.18" width="1.0" height="13.79" fill="#686868"/>
<rect x="115.8" y="221.18" width="1.0" height="13.79" fill="#686868"/>
<rect x="150.0" y="221.18" width="1.0" height="13.79" fill="#686868"/>
<rect x="181.3" y="221.18" width="1.0" height="13.79" fill="#686868"/>
<rect x="218.0" y="221.18" width="1.0" height="13.79" fill="#686868"/>
<rect x="250.0" y="221.18" width="1.0" height="13.79" fill="#686868"/>
<rect x="285.1" y="221.18" width="1.0" height="13.79" fill="#686868"/>
<rect x="326.8" y="221.18" width="1.0" height="13.79" fill="#686868"/>
<rect x="368.7" y="221.18" width="1.0" height="13.79" fill="#686868"/>
<rect x="421.5" y="221.18" width="1.0" height="13.79" fill="#686868"/>
<text x="49.80" y="244.27" font-size="7.2" text-anchor="middle" fill="#37476a" textLength="21.05" lengthAdjust="spacingAndGlyphs">2y italia</text>
<text x="114.80" y="244.27" font-size="7.4" text-anchor="end" fill="#37476a" textLength="13.02" lengthAdjust="spacingAndGlyphs">EUR</text>
<text x="133.40" y="243.97" font-size="5.3" text-anchor="middle" fill="#56637e" textLength="27.04" lengthAdjust="spacingAndGlyphs">02/09/2016</text>
<text x="154.00" y="244.27" font-size="7" fill="#9aa0aa">-</text>
<text x="178.00" y="244.27" font-size="7.4" text-anchor="end" fill="#37476a" textLength="14.49" lengthAdjust="spacingAndGlyphs">0.072</text>
<text x="216.70" y="244.27" font-size="7.4" text-anchor="end" fill="#37476a" textLength="16.63" lengthAdjust="spacingAndGlyphs">-0.063</text>
<text x="248.70" y="244.27" font-size="7.4" text-anchor="end" fill="#37476a" textLength="16.63" lengthAdjust="spacingAndGlyphs">-0.095</text>
<text x="283.80" y="244.27" font-size="7.4" text-anchor="end" fill="#37476a" textLength="16.63" lengthAdjust="spacingAndGlyphs">-0.052</text>
<text x="325.50" y="244.27" font-size="7.4" text-anchor="end" fill="#37476a" textLength="16.63" lengthAdjust="spacingAndGlyphs">-0.030</text>
<text x="367.40" y="244.27" font-size="7.4" text-anchor="end" fill="#37476a" textLength="14.49" lengthAdjust="spacingAndGlyphs">0.534</text>
<text x="420.20" y="244.27" font-size="7.4" text-anchor="end" fill="#37476a" textLength="14.49" lengthAdjust="spacingAndGlyphs">1.257</text>
<rect x="0.5" y="234.97" width="1.0" height="13.79" fill="#686868"/>
<rect x="98.1" y="234.97" width="1.0" height="13.79" fill="#686868"/>
<rect x="115.8" y="234.97" width="1.0" height="13.79" fill="#686868"/>
<rect x="150.0" y="234.97" width="1.0" height="13.79" fill="#686868"/>
<rect x="181.3" y="234.97" width="1.0" height="13.79" fill="#686868"/>
<rect x="218.0" y="234.97" width="1.0" height="13.79" fill="#686868"/>
<rect x="250.0" y="234.97" width="1.0" height="13.79" fill="#686868"/>
<rect x="285.1" y="234.97" width="1.0" height="13.79" fill="#686868"/>
<rect x="326.8" y="234.97" width="1.0" height="13.79" fill="#686868"/>
<rect x="368.7" y="234.97" width="1.0" height="13.79" fill="#686868"/>
<rect x="421.5" y="234.97" width="1.0" height="13.79" fill="#686868"/>
<text x="148.30" y="258.06" font-size="8" textLength="69.30" lengthAdjust="spacingAndGlyphs" text-anchor="end" font-weight="bold" fill="#1f3460">Spread Vs Germania</text>
<text x="177.20" y="258.06" font-size="8" text-anchor="end" font-weight="bold" fill="#1f3460" textLength="7.60" lengthAdjust="spacingAndGlyphs">56</text>
<text x="214.00" y="258.06" font-size="8" text-anchor="end" font-weight="bold" fill="#1f3460" textLength="7.60" lengthAdjust="spacingAndGlyphs">56</text>
<text x="246.00" y="258.06" font-size="8" text-anchor="end" font-weight="bold" fill="#1f3460" textLength="7.60" lengthAdjust="spacingAndGlyphs">52</text>
<text x="281.10" y="258.06" font-size="8" text-anchor="end" font-weight="bold" fill="#1f3460" textLength="7.60" lengthAdjust="spacingAndGlyphs">56</text>
<text x="322.80" y="258.06" font-size="8" text-anchor="end" font-weight="bold" fill="#1f3460" textLength="7.60" lengthAdjust="spacingAndGlyphs">32</text>
<text x="364.70" y="258.06" font-size="8" text-anchor="end" font-weight="bold" fill="#1f3460" textLength="7.60" lengthAdjust="spacingAndGlyphs">63</text>
<text x="417.50" y="258.06" font-size="8" text-anchor="end" font-weight="bold" fill="#1f3460" textLength="11.40" lengthAdjust="spacingAndGlyphs">104</text>
<rect x="0.5" y="248.76" width="1.0" height="13.79" fill="#686868"/>
<rect x="150.0" y="248.76" width="1.0" height="13.79" fill="#686868"/>
<rect x="181.3" y="248.76" width="1.0" height="13.79" fill="#686868"/>
<rect x="218.0" y="248.76" width="1.0" height="13.79" fill="#686868"/>
<rect x="250.0" y="248.76" width="1.0" height="13.79" fill="#686868"/>
<rect x="285.1" y="248.76" width="1.0" height="13.79" fill="#686868"/>
<rect x="326.8" y="248.76" width="1.0" height="13.79" fill="#686868"/>
<rect x="368.7" y="248.76" width="1.0" height="13.79" fill="#686868"/>
<rect x="421.5" y="248.76" width="1.0" height="13.79" fill="#686868"/>
<text x="49.80" y="271.85" font-size="7.2" text-anchor="middle" fill="#37476a" textLength="21.05" lengthAdjust="spacingAndGlyphs">5y italia</text>
<text x="114.80" y="271.85" font-size="7.4" text-anchor="end" fill="#37476a" textLength="13.02" lengthAdjust="spacingAndGlyphs">EUR</text>
<text x="133.40" y="271.55" font-size="5.3" text-anchor="middle" fill="#56637e" textLength="27.04" lengthAdjust="spacingAndGlyphs">02/09/2016</text>
<text x="178.00" y="271.85" font-size="7.4" text-anchor="end" fill="#37476a" textLength="14.49" lengthAdjust="spacingAndGlyphs">0.275</text>
<text x="216.70" y="271.85" font-size="7.4" text-anchor="end" fill="#37476a" textLength="14.49" lengthAdjust="spacingAndGlyphs">0.279</text>
<text x="248.70" y="271.85" font-size="7.4" text-anchor="end" fill="#37476a" textLength="14.49" lengthAdjust="spacingAndGlyphs">0.227</text>
<text x="283.80" y="271.85" font-size="7.4" text-anchor="end" fill="#37476a" textLength="14.49" lengthAdjust="spacingAndGlyphs">0.314</text>
<text x="325.50" y="271.85" font-size="7.4" text-anchor="end" fill="#37476a" textLength="14.49" lengthAdjust="spacingAndGlyphs">0.504</text>
<text x="367.40" y="271.85" font-size="7.4" text-anchor="end" fill="#37476a" textLength="14.49" lengthAdjust="spacingAndGlyphs">0.952</text>
<text x="420.20" y="271.85" font-size="7.4" text-anchor="end" fill="#37476a" textLength="14.49" lengthAdjust="spacingAndGlyphs">2.730</text>
<rect x="0.5" y="262.54999999999995" width="1.0" height="13.79" fill="#686868"/>
<rect x="98.1" y="262.54999999999995" width="1.0" height="13.79" fill="#686868"/>
<rect x="115.8" y="262.54999999999995" width="1.0" height="13.79" fill="#686868"/>
<rect x="150.0" y="262.54999999999995" width="1.0" height="13.79" fill="#686868"/>
<rect x="181.3" y="262.54999999999995" width="1.0" height="13.79" fill="#686868"/>
<rect x="218.0" y="262.54999999999995" width="1.0" height="13.79" fill="#686868"/>
<rect x="250.0" y="262.54999999999995" width="1.0" height="13.79" fill="#686868"/>
<rect x="285.1" y="262.54999999999995" width="1.0" height="13.79" fill="#686868"/>
<rect x="326.8" y="262.54999999999995" width="1.0" height="13.79" fill="#686868"/>
<rect x="368.7" y="262.54999999999995" width="1.0" height="13.79" fill="#686868"/>
<rect x="421.5" y="262.54999999999995" width="1.0" height="13.79" fill="#686868"/>
<text x="148.30" y="285.64" font-size="8" textLength="69.30" lengthAdjust="spacingAndGlyphs" text-anchor="end" font-weight="bold" fill="#1f3460">Spread Vs Germania</text>
<text x="177.20" y="285.64" font-size="8" text-anchor="end" font-weight="bold" fill="#1f3460" textLength="7.60" lengthAdjust="spacingAndGlyphs">78</text>
<text x="214.00" y="285.64" font-size="8" text-anchor="end" font-weight="bold" fill="#1f3460" textLength="7.60" lengthAdjust="spacingAndGlyphs">79</text>
<text x="246.00" y="285.64" font-size="8" text-anchor="end" font-weight="bold" fill="#1f3460" textLength="7.60" lengthAdjust="spacingAndGlyphs">73</text>
<text x="281.10" y="285.64" font-size="8" text-anchor="end" font-weight="bold" fill="#1f3460" textLength="7.60" lengthAdjust="spacingAndGlyphs">80</text>
<text x="322.80" y="285.64" font-size="8" text-anchor="end" font-weight="bold" fill="#1f3460" textLength="7.60" lengthAdjust="spacingAndGlyphs">55</text>
<text x="364.70" y="285.64" font-size="8" text-anchor="end" font-weight="bold" fill="#1f3460" textLength="7.60" lengthAdjust="spacingAndGlyphs">94</text>
<text x="417.50" y="285.64" font-size="8" text-anchor="end" font-weight="bold" fill="#1f3460" textLength="11.40" lengthAdjust="spacingAndGlyphs">181</text>
<rect x="0.5" y="276.34" width="1.0" height="13.79" fill="#686868"/>
<rect x="150.0" y="276.34" width="1.0" height="13.79" fill="#686868"/>
<rect x="181.3" y="276.34" width="1.0" height="13.79" fill="#686868"/>
<rect x="218.0" y="276.34" width="1.0" height="13.79" fill="#686868"/>
<rect x="250.0" y="276.34" width="1.0" height="13.79" fill="#686868"/>
<rect x="285.1" y="276.34" width="1.0" height="13.79" fill="#686868"/>
<rect x="326.8" y="276.34" width="1.0" height="13.79" fill="#686868"/>
<rect x="368.7" y="276.34" width="1.0" height="13.79" fill="#686868"/>
<rect x="421.5" y="276.34" width="1.0" height="13.79" fill="#686868"/>
<text x="49.80" y="299.43" font-size="7.2" text-anchor="middle" fill="#37476a" textLength="24.29" lengthAdjust="spacingAndGlyphs">10y italia</text>
<text x="114.80" y="299.43" font-size="7.4" text-anchor="end" fill="#37476a" textLength="13.02" lengthAdjust="spacingAndGlyphs">EUR</text>
<text x="133.40" y="299.13" font-size="5.3" text-anchor="middle" fill="#56637e" textLength="27.04" lengthAdjust="spacingAndGlyphs">02/09/2016</text>
<text x="178.00" y="299.43" font-size="7.4" text-anchor="end" fill="#37476a" textLength="14.49" lengthAdjust="spacingAndGlyphs">1.172</text>
<text x="216.70" y="299.43" font-size="7.4" text-anchor="end" fill="#37476a" textLength="14.49" lengthAdjust="spacingAndGlyphs">1.172</text>
<text x="248.70" y="299.43" font-size="7.4" text-anchor="end" fill="#37476a" textLength="14.49" lengthAdjust="spacingAndGlyphs">1.134</text>
<text x="283.80" y="299.43" font-size="7.4" text-anchor="end" fill="#37476a" textLength="14.49" lengthAdjust="spacingAndGlyphs">1.234</text>
<text x="325.50" y="299.43" font-size="7.4" text-anchor="end" fill="#37476a" textLength="14.49" lengthAdjust="spacingAndGlyphs">1.596</text>
<text x="367.40" y="299.43" font-size="7.4" text-anchor="end" fill="#37476a" textLength="14.49" lengthAdjust="spacingAndGlyphs">1.890</text>
<text x="420.20" y="299.43" font-size="7.4" text-anchor="end" fill="#37476a" textLength="14.49" lengthAdjust="spacingAndGlyphs">4.125</text>
<rect x="0.5" y="290.13" width="1.0" height="13.79" fill="#686868"/>
<rect x="98.1" y="290.13" width="1.0" height="13.79" fill="#686868"/>
<rect x="115.8" y="290.13" width="1.0" height="13.79" fill="#686868"/>
<rect x="150.0" y="290.13" width="1.0" height="13.79" fill="#686868"/>
<rect x="181.3" y="290.13" width="1.0" height="13.79" fill="#686868"/>
<rect x="218.0" y="290.13" width="1.0" height="13.79" fill="#686868"/>
<rect x="250.0" y="290.13" width="1.0" height="13.79" fill="#686868"/>
<rect x="285.1" y="290.13" width="1.0" height="13.79" fill="#686868"/>
<rect x="326.8" y="290.13" width="1.0" height="13.79" fill="#686868"/>
<rect x="368.7" y="290.13" width="1.0" height="13.79" fill="#686868"/>
<rect x="421.5" y="290.13" width="1.0" height="13.79" fill="#686868"/>
<text x="148.30" y="313.22" font-size="8" textLength="69.30" lengthAdjust="spacingAndGlyphs" text-anchor="end" font-weight="bold" fill="#1f3460">Spread Vs Germania</text>
<text x="177.20" y="313.22" font-size="8" text-anchor="end" font-weight="bold" fill="#1f3460" textLength="11.40" lengthAdjust="spacingAndGlyphs">122</text>
<text x="214.00" y="313.22" font-size="8" text-anchor="end" font-weight="bold" fill="#1f3460" textLength="11.40" lengthAdjust="spacingAndGlyphs">124</text>
<text x="246.00" y="313.22" font-size="8" text-anchor="end" font-weight="bold" fill="#1f3460" textLength="11.40" lengthAdjust="spacingAndGlyphs">121</text>
<text x="281.10" y="313.22" font-size="8" text-anchor="end" font-weight="bold" fill="#1f3460" textLength="11.40" lengthAdjust="spacingAndGlyphs">126</text>
<text x="322.80" y="313.22" font-size="8" text-anchor="end" font-weight="bold" fill="#1f3460" textLength="7.60" lengthAdjust="spacingAndGlyphs">97</text>
<text x="364.70" y="313.22" font-size="8" text-anchor="end" font-weight="bold" fill="#1f3460" textLength="11.40" lengthAdjust="spacingAndGlyphs">135</text>
<text x="417.50" y="313.22" font-size="8" text-anchor="end" font-weight="bold" fill="#1f3460" textLength="11.40" lengthAdjust="spacingAndGlyphs">220</text>
<rect x="0.5" y="303.91999999999996" width="1.0" height="13.79" fill="#686868"/>
<rect x="150.0" y="303.91999999999996" width="1.0" height="13.79" fill="#686868"/>
<rect x="181.3" y="303.91999999999996" width="1.0" height="13.79" fill="#686868"/>
<rect x="218.0" y="303.91999999999996" width="1.0" height="13.79" fill="#686868"/>
<rect x="250.0" y="303.91999999999996" width="1.0" height="13.79" fill="#686868"/>
<rect x="285.1" y="303.91999999999996" width="1.0" height="13.79" fill="#686868"/>
<rect x="326.8" y="303.91999999999996" width="1.0" height="13.79" fill="#686868"/>
<rect x="368.7" y="303.91999999999996" width="1.0" height="13.79" fill="#686868"/>
<rect x="421.5" y="303.91999999999996" width="1.0" height="13.79" fill="#686868"/>
<text x="49.80" y="327.01" font-size="7.2" text-anchor="middle" fill="#37476a" textLength="16.74" lengthAdjust="spacingAndGlyphs">2y usa</text>
<text x="114.80" y="327.01" font-size="7.4" text-anchor="end" fill="#37476a" textLength="13.03" lengthAdjust="spacingAndGlyphs">USD</text>
<text x="133.40" y="326.71" font-size="5.3" text-anchor="middle" fill="#56637e" textLength="27.04" lengthAdjust="spacingAndGlyphs">02/09/2016</text>
<text x="178.00" y="327.01" font-size="7.4" text-anchor="end" fill="#37476a" textLength="14.49" lengthAdjust="spacingAndGlyphs">0.790</text>
<text x="216.70" y="327.01" font-size="7.4" text-anchor="end" fill="#37476a" textLength="14.49" lengthAdjust="spacingAndGlyphs">0.782</text>
<text x="248.70" y="327.01" font-size="7.4" text-anchor="end" fill="#37476a" textLength="14.49" lengthAdjust="spacingAndGlyphs">0.843</text>
<text x="283.80" y="327.01" font-size="7.4" text-anchor="end" fill="#37476a" textLength="14.49" lengthAdjust="spacingAndGlyphs">0.703</text>
<text x="325.50" y="327.01" font-size="7.4" text-anchor="end" fill="#37476a" textLength="14.49" lengthAdjust="spacingAndGlyphs">1.048</text>
<text x="367.40" y="327.01" font-size="7.4" text-anchor="end" fill="#37476a" textLength="14.49" lengthAdjust="spacingAndGlyphs">0.665</text>
<text x="420.20" y="327.01" font-size="7.4" text-anchor="end" fill="#37476a" textLength="14.49" lengthAdjust="spacingAndGlyphs">0.380</text>
<rect x="0.5" y="317.71" width="1.0" height="13.79" fill="#686868"/>
<rect x="98.1" y="317.71" width="1.0" height="13.79" fill="#686868"/>
<rect x="115.8" y="317.71" width="1.0" height="13.79" fill="#686868"/>
<rect x="150.0" y="317.71" width="1.0" height="13.79" fill="#686868"/>
<rect x="181.3" y="317.71" width="1.0" height="13.79" fill="#686868"/>
<rect x="218.0" y="317.71" width="1.0" height="13.79" fill="#686868"/>
<rect x="250.0" y="317.71" width="1.0" height="13.79" fill="#686868"/>
<rect x="285.1" y="317.71" width="1.0" height="13.79" fill="#686868"/>
<rect x="326.8" y="317.71" width="1.0" height="13.79" fill="#686868"/>
<rect x="368.7" y="317.71" width="1.0" height="13.79" fill="#686868"/>
<rect x="421.5" y="317.71" width="1.0" height="13.79" fill="#686868"/>
<text x="49.80" y="340.80" font-size="7.2" text-anchor="middle" fill="#37476a" textLength="16.74" lengthAdjust="spacingAndGlyphs">5y usa</text>
<text x="114.80" y="340.80" font-size="7.4" text-anchor="end" fill="#37476a" textLength="13.03" lengthAdjust="spacingAndGlyphs">USD</text>
<text x="133.40" y="340.50" font-size="5.3" text-anchor="middle" fill="#56637e" textLength="27.04" lengthAdjust="spacingAndGlyphs">02/09/2016</text>
<text x="178.00" y="340.80" font-size="7.4" text-anchor="end" fill="#37476a" textLength="14.49" lengthAdjust="spacingAndGlyphs">1.193</text>
<text x="216.70" y="340.80" font-size="7.4" text-anchor="end" fill="#37476a" textLength="14.49" lengthAdjust="spacingAndGlyphs">1.180</text>
<text x="248.70" y="340.80" font-size="7.4" text-anchor="end" fill="#37476a" textLength="14.49" lengthAdjust="spacingAndGlyphs">1.237</text>
<text x="283.80" y="340.80" font-size="7.4" text-anchor="end" fill="#37476a" textLength="14.25" lengthAdjust="spacingAndGlyphs">1.117</text>
<text x="325.50" y="340.80" font-size="7.4" text-anchor="end" fill="#37476a" textLength="14.49" lengthAdjust="spacingAndGlyphs">1.760</text>
<text x="367.40" y="340.80" font-size="7.4" text-anchor="end" fill="#37476a" textLength="14.49" lengthAdjust="spacingAndGlyphs">1.633</text>
<text x="420.20" y="340.80" font-size="7.4" text-anchor="end" fill="#37476a" textLength="14.49" lengthAdjust="spacingAndGlyphs">1.741</text>
<rect x="0.5" y="331.5" width="1.0" height="13.79" fill="#686868"/>
<rect x="98.1" y="331.5" width="1.0" height="13.79" fill="#686868"/>
<rect x="115.8" y="331.5" width="1.0" height="13.79" fill="#686868"/>
<rect x="150.0" y="331.5" width="1.0" height="13.79" fill="#686868"/>
<rect x="181.3" y="331.5" width="1.0" height="13.79" fill="#686868"/>
<rect x="218.0" y="331.5" width="1.0" height="13.79" fill="#686868"/>
<rect x="250.0" y="331.5" width="1.0" height="13.79" fill="#686868"/>
<rect x="285.1" y="331.5" width="1.0" height="13.79" fill="#686868"/>
<rect x="326.8" y="331.5" width="1.0" height="13.79" fill="#686868"/>
<rect x="368.7" y="331.5" width="1.0" height="13.79" fill="#686868"/>
<rect x="421.5" y="331.5" width="1.0" height="13.79" fill="#686868"/>
<text x="49.80" y="354.59" font-size="7.2" text-anchor="middle" fill="#37476a" textLength="19.98" lengthAdjust="spacingAndGlyphs">10y usa</text>
<text x="114.80" y="354.59" font-size="7.4" text-anchor="end" fill="#37476a" textLength="13.03" lengthAdjust="spacingAndGlyphs">USD</text>
<text x="133.40" y="354.29" font-size="5.3" text-anchor="middle" fill="#56637e" textLength="27.04" lengthAdjust="spacingAndGlyphs">02/09/2016</text>
<text x="178.00" y="354.59" font-size="7.4" text-anchor="end" fill="#37476a" textLength="14.49" lengthAdjust="spacingAndGlyphs">1.597</text>
<text x="216.70" y="354.59" font-size="7.4" text-anchor="end" fill="#37476a" textLength="11.27" lengthAdjust="spacingAndGlyphs">1.57</text>
<text x="248.70" y="354.59" font-size="7.4" text-anchor="end" fill="#37476a" textLength="11.27" lengthAdjust="spacingAndGlyphs">1.63</text>
<text x="283.80" y="354.59" font-size="7.4" text-anchor="end" fill="#37476a" textLength="11.27" lengthAdjust="spacingAndGlyphs">1.57</text>
<text x="325.50" y="354.59" font-size="7.4" text-anchor="end" fill="#37476a" textLength="11.27" lengthAdjust="spacingAndGlyphs">2.27</text>
<text x="367.40" y="354.59" font-size="7.4" text-anchor="end" fill="#37476a" textLength="11.27" lengthAdjust="spacingAndGlyphs">2.17</text>
<text x="420.20" y="354.59" font-size="7.4" text-anchor="end" fill="#37476a" textLength="11.27" lengthAdjust="spacingAndGlyphs">3.03</text>
<rect x="0.5" y="345.28999999999996" width="1.0" height="13.79" fill="#686868"/>
<rect x="98.1" y="345.28999999999996" width="1.0" height="13.79" fill="#686868"/>
<rect x="115.8" y="345.28999999999996" width="1.0" height="13.79" fill="#686868"/>
<rect x="150.0" y="345.28999999999996" width="1.0" height="13.79" fill="#686868"/>
<rect x="181.3" y="345.28999999999996" width="1.0" height="13.79" fill="#686868"/>
<rect x="218.0" y="345.28999999999996" width="1.0" height="13.79" fill="#686868"/>
<rect x="250.0" y="345.28999999999996" width="1.0" height="13.79" fill="#686868"/>
<rect x="285.1" y="345.28999999999996" width="1.0" height="13.79" fill="#686868"/>
<rect x="326.8" y="345.28999999999996" width="1.0" height="13.79" fill="#686868"/>
<rect x="368.7" y="345.28999999999996" width="1.0" height="13.79" fill="#686868"/>
<rect x="421.5" y="345.28999999999996" width="1.0" height="13.79" fill="#686868"/>
<text x="91.80" y="369.38" font-size="7.6" text-anchor="middle" font-weight="bold" fill="#1f3460" textLength="34.41" lengthAdjust="spacingAndGlyphs">EURIBOR</text>
<text x="200.15" y="367.98" font-size="7.8" text-anchor="middle" fill="#fff" textLength="26.93" lengthAdjust="spacingAndGlyphs">31-ago-16</text>
<text x="234.50" y="367.98" font-size="7.8" text-anchor="middle" fill="#fff" textLength="26.93" lengthAdjust="spacingAndGlyphs">26-ago-16</text>
<text x="268.05" y="367.98" font-size="7.8" text-anchor="middle" fill="#fff" textLength="25.84" lengthAdjust="spacingAndGlyphs">22-lug-16</text>
<text x="306.45" y="367.98" font-size="7.8" text-anchor="middle" fill="#fff" textLength="25.47" lengthAdjust="spacingAndGlyphs">31-dic-15</text>
<text x="348.25" y="367.98" font-size="7.8" text-anchor="middle" fill="#fff" textLength="25.47" lengthAdjust="spacingAndGlyphs">31-dic-14</text>
<text x="395.60" y="367.98" font-size="7.8" text-anchor="middle" fill="#fff" textLength="25.47" lengthAdjust="spacingAndGlyphs">31-dic-13</text>
<rect x="0.5" y="359.08" width="1.1" height="13.79" fill="#686868"/>
<text x="49.80" y="382.17" font-size="7.2" text-anchor="middle" fill="#37476a" textLength="39.59" lengthAdjust="spacingAndGlyphs">Euribor 1 mese</text>
<text x="114.80" y="382.17" font-size="7.4" text-anchor="end" fill="#37476a" textLength="13.02" lengthAdjust="spacingAndGlyphs">EUR</text>
<text x="133.40" y="381.87" font-size="5.3" text-anchor="middle" fill="#56637e" textLength="27.04" lengthAdjust="spacingAndGlyphs">01/09/2016</text>
<text x="154.00" y="382.17" font-size="7" fill="#9aa0aa">-</text>
<text x="178.00" y="382.17" font-size="7.4" text-anchor="end" fill="#37476a" textLength="14.49" lengthAdjust="spacingAndGlyphs">0.372</text>
<text x="216.70" y="382.17" font-size="7.4" text-anchor="end" fill="#37476a" textLength="16.63" lengthAdjust="spacingAndGlyphs">-0.372</text>
<text x="248.70" y="382.17" font-size="7.4" text-anchor="end" fill="#37476a" textLength="16.63" lengthAdjust="spacingAndGlyphs">-0.371</text>
<text x="283.80" y="382.17" font-size="7.4" text-anchor="end" fill="#37476a" textLength="16.63" lengthAdjust="spacingAndGlyphs">-0.371</text>
<text x="325.50" y="382.17" font-size="7.4" text-anchor="end" fill="#37476a" textLength="16.63" lengthAdjust="spacingAndGlyphs">-0.205</text>
<text x="367.40" y="382.17" font-size="7.4" text-anchor="end" fill="#37476a" textLength="14.49" lengthAdjust="spacingAndGlyphs">0.018</text>
<text x="420.20" y="382.17" font-size="7.4" text-anchor="end" fill="#37476a" textLength="14.49" lengthAdjust="spacingAndGlyphs">0.216</text>
<rect x="0.5" y="372.87" width="1.0" height="13.79" fill="#686868"/>
<rect x="98.1" y="372.87" width="1.0" height="13.79" fill="#686868"/>
<rect x="115.8" y="372.87" width="1.0" height="13.79" fill="#686868"/>
<rect x="150.0" y="372.87" width="1.0" height="13.79" fill="#686868"/>
<rect x="181.3" y="372.87" width="1.0" height="13.79" fill="#686868"/>
<rect x="218.0" y="372.87" width="1.0" height="13.79" fill="#686868"/>
<rect x="250.0" y="372.87" width="1.0" height="13.79" fill="#686868"/>
<rect x="285.1" y="372.87" width="1.0" height="13.79" fill="#686868"/>
<rect x="326.8" y="372.87" width="1.0" height="13.79" fill="#686868"/>
<rect x="368.7" y="372.87" width="1.0" height="13.79" fill="#686868"/>
<rect x="421.5" y="372.87" width="1.0" height="13.79" fill="#686868"/>
<text x="49.80" y="395.96" font-size="7.2" text-anchor="middle" fill="#37476a" textLength="38.51" lengthAdjust="spacingAndGlyphs">Euribor 3 mesi</text>
<text x="114.80" y="395.96" font-size="7.4" text-anchor="end" fill="#37476a" textLength="13.02" lengthAdjust="spacingAndGlyphs">EUR</text>
<text x="133.40" y="395.66" font-size="5.3" text-anchor="middle" fill="#56637e" textLength="27.04" lengthAdjust="spacingAndGlyphs">01/09/2016</text>
<text x="154.00" y="395.96" font-size="7" fill="#9aa0aa">-</text>
<text x="178.00" y="395.96" font-size="7.4" text-anchor="end" fill="#37476a" textLength="14.49" lengthAdjust="spacingAndGlyphs">0.299</text>
<text x="216.70" y="395.96" font-size="7.4" text-anchor="end" fill="#37476a" textLength="16.63" lengthAdjust="spacingAndGlyphs">-0.299</text>
<text x="248.70" y="395.96" font-size="7.4" text-anchor="end" fill="#37476a" textLength="16.63" lengthAdjust="spacingAndGlyphs">-0.298</text>
<text x="283.80" y="395.96" font-size="7.4" text-anchor="end" fill="#37476a" textLength="16.63" lengthAdjust="spacingAndGlyphs">-0.297</text>
<text x="325.50" y="395.96" font-size="7.4" text-anchor="end" fill="#37476a" textLength="16.63" lengthAdjust="spacingAndGlyphs">-0.131</text>
<text x="367.40" y="395.96" font-size="7.4" text-anchor="end" fill="#37476a" textLength="14.49" lengthAdjust="spacingAndGlyphs">0.078</text>
<text x="420.20" y="395.96" font-size="7.4" text-anchor="end" fill="#37476a" textLength="14.49" lengthAdjust="spacingAndGlyphs">0.287</text>
<rect x="0.5" y="386.65999999999997" width="1.0" height="13.79" fill="#686868"/>
<rect x="98.1" y="386.65999999999997" width="1.0" height="13.79" fill="#686868"/>
<rect x="115.8" y="386.65999999999997" width="1.0" height="13.79" fill="#686868"/>
<rect x="150.0" y="386.65999999999997" width="1.0" height="13.79" fill="#686868"/>
<rect x="181.3" y="386.65999999999997" width="1.0" height="13.79" fill="#686868"/>
<rect x="218.0" y="386.65999999999997" width="1.0" height="13.79" fill="#686868"/>
<rect x="250.0" y="386.65999999999997" width="1.0" height="13.79" fill="#686868"/>
<rect x="285.1" y="386.65999999999997" width="1.0" height="13.79" fill="#686868"/>
<rect x="326.8" y="386.65999999999997" width="1.0" height="13.79" fill="#686868"/>
<rect x="368.7" y="386.65999999999997" width="1.0" height="13.79" fill="#686868"/>
<rect x="421.5" y="386.65999999999997" width="1.0" height="13.79" fill="#686868"/>
<text x="49.80" y="409.75" font-size="7.2" text-anchor="middle" fill="#37476a" textLength="38.51" lengthAdjust="spacingAndGlyphs">Euribor 6 mesi</text>
<text x="114.80" y="409.75" font-size="7.4" text-anchor="end" fill="#37476a" textLength="13.02" lengthAdjust="spacingAndGlyphs">EUR</text>
<text x="133.40" y="409.45" font-size="5.3" text-anchor="middle" fill="#56637e" textLength="27.04" lengthAdjust="spacingAndGlyphs">01/09/2016</text>
<text x="154.00" y="409.75" font-size="7" fill="#9aa0aa">-</text>
<text x="178.00" y="409.75" font-size="7.4" text-anchor="end" fill="#37476a" textLength="14.49" lengthAdjust="spacingAndGlyphs">0.193</text>
<text x="216.70" y="409.75" font-size="7.4" text-anchor="end" fill="#37476a" textLength="16.63" lengthAdjust="spacingAndGlyphs">-0.192</text>
<text x="248.70" y="409.75" font-size="7.4" text-anchor="end" fill="#37476a" textLength="16.63" lengthAdjust="spacingAndGlyphs">-0.191</text>
<text x="283.80" y="409.75" font-size="7.4" text-anchor="end" fill="#37476a" textLength="16.63" lengthAdjust="spacingAndGlyphs">-0.189</text>
<text x="325.50" y="409.75" font-size="7.4" text-anchor="end" fill="#37476a" textLength="16.63" lengthAdjust="spacingAndGlyphs">-0.040</text>
<text x="367.40" y="409.75" font-size="7.4" text-anchor="end" fill="#37476a" textLength="14.49" lengthAdjust="spacingAndGlyphs">0.171</text>
<text x="420.20" y="409.75" font-size="7.4" text-anchor="end" fill="#37476a" textLength="14.49" lengthAdjust="spacingAndGlyphs">0.389</text>
<rect x="0.5" y="400.45" width="1.0" height="13.79" fill="#686868"/>
<rect x="98.1" y="400.45" width="1.0" height="13.79" fill="#686868"/>
<rect x="115.8" y="400.45" width="1.0" height="13.79" fill="#686868"/>
<rect x="150.0" y="400.45" width="1.0" height="13.79" fill="#686868"/>
<rect x="181.3" y="400.45" width="1.0" height="13.79" fill="#686868"/>
<rect x="218.0" y="400.45" width="1.0" height="13.79" fill="#686868"/>
<rect x="250.0" y="400.45" width="1.0" height="13.79" fill="#686868"/>
<rect x="285.1" y="400.45" width="1.0" height="13.79" fill="#686868"/>
<rect x="326.8" y="400.45" width="1.0" height="13.79" fill="#686868"/>
<rect x="368.7" y="400.45" width="1.0" height="13.79" fill="#686868"/>
<rect x="421.5" y="400.45" width="1.0" height="13.79" fill="#686868"/>
<text x="49.80" y="423.54" font-size="7.2" text-anchor="middle" fill="#37476a" textLength="41.75" lengthAdjust="spacingAndGlyphs">Euribor 12 mesi</text>
<text x="114.80" y="423.54" font-size="7.4" text-anchor="end" fill="#37476a" textLength="13.02" lengthAdjust="spacingAndGlyphs">EUR</text>
<text x="133.40" y="423.24" font-size="5.3" text-anchor="middle" fill="#56637e" textLength="27.04" lengthAdjust="spacingAndGlyphs">01/09/2016</text>
<text x="154.00" y="423.54" font-size="7" fill="#9aa0aa">-</text>
<text x="178.00" y="423.54" font-size="7.4" text-anchor="end" fill="#37476a" textLength="14.49" lengthAdjust="spacingAndGlyphs">0.051</text>
<text x="216.70" y="423.54" font-size="7.4" text-anchor="end" fill="#37476a" textLength="16.63" lengthAdjust="spacingAndGlyphs">-0.052</text>
<text x="248.70" y="423.54" font-size="7.4" text-anchor="end" fill="#37476a" textLength="16.63" lengthAdjust="spacingAndGlyphs">-0.050</text>
<text x="283.80" y="423.54" font-size="7.4" text-anchor="end" fill="#37476a" textLength="16.63" lengthAdjust="spacingAndGlyphs">-0.050</text>
<text x="325.50" y="423.54" font-size="7.4" text-anchor="end" fill="#37476a" textLength="14.49" lengthAdjust="spacingAndGlyphs">0.060</text>
<text x="367.40" y="423.54" font-size="7.4" text-anchor="end" fill="#37476a" textLength="14.49" lengthAdjust="spacingAndGlyphs">0.325</text>
<text x="420.20" y="423.54" font-size="7.4" text-anchor="end" fill="#37476a" textLength="14.49" lengthAdjust="spacingAndGlyphs">0.556</text>
<rect x="0.5" y="414.24" width="1.0" height="13.79" fill="#686868"/>
<rect x="98.1" y="414.24" width="1.0" height="13.79" fill="#686868"/>
<rect x="115.8" y="414.24" width="1.0" height="13.79" fill="#686868"/>
<rect x="150.0" y="414.24" width="1.0" height="13.79" fill="#686868"/>
<rect x="181.3" y="414.24" width="1.0" height="13.79" fill="#686868"/>
<rect x="218.0" y="414.24" width="1.0" height="13.79" fill="#686868"/>
<rect x="250.0" y="414.24" width="1.0" height="13.79" fill="#686868"/>
<rect x="285.1" y="414.24" width="1.0" height="13.79" fill="#686868"/>
<rect x="326.8" y="414.24" width="1.0" height="13.79" fill="#686868"/>
<rect x="368.7" y="414.24" width="1.0" height="13.79" fill="#686868"/>
<rect x="421.5" y="414.24" width="1.0" height="13.79" fill="#686868"/>
<rect x="0.5" y="427.72999999999996" width="422.1" height="1.1" fill="#686868"/>
<rect x="0.5" y="358.78" width="422.1" height="1.1" fill="#686868"/>
<text x="583.5" y="185" font-family="Liberation Sans" font-weight="bold" font-size="9.6" fill="#203f6e" stroke="#203f6e" stroke-width="0.2" textLength="48.6" lengthAdjust="spacingAndGlyphs">Rendimenti</text>
<line x1="467" x2="767" y1="194.8" y2="194.8" stroke="#d9d9d9" stroke-width="1"/>
<text x="463" y="196.9" font-family="Liberation Sans" font-size="5" fill="#2a4875" text-anchor="end" stroke="#2a4875" stroke-width="0.05">3.00%</text>
<line x1="467" x2="767" y1="217.1" y2="217.1" stroke="#d9d9d9" stroke-width="1"/>
<text x="463" y="219.2" font-family="Liberation Sans" font-size="5" fill="#2a4875" text-anchor="end" stroke="#2a4875" stroke-width="0.05">2.50%</text>
<line x1="467" x2="767" y1="239.4" y2="239.4" stroke="#d9d9d9" stroke-width="1"/>
<text x="463" y="241.5" font-family="Liberation Sans" font-size="5" fill="#2a4875" text-anchor="end" stroke="#2a4875" stroke-width="0.05">2.00%</text>
<line x1="467" x2="767" y1="261.7" y2="261.7" stroke="#d9d9d9" stroke-width="1"/>
<text x="463" y="263.8" font-family="Liberation Sans" font-size="5" fill="#2a4875" text-anchor="end" stroke="#2a4875" stroke-width="0.05">1.50%</text>
<line x1="467" x2="767" y1="284.0" y2="284.0" stroke="#d9d9d9" stroke-width="1"/>
<text x="463" y="286.1" font-family="Liberation Sans" font-size="5" fill="#2a4875" text-anchor="end" stroke="#2a4875" stroke-width="0.05">1.00%</text>
<line x1="467" x2="767" y1="306.3" y2="306.3" stroke="#d9d9d9" stroke-width="1"/>
<text x="463" y="308.4" font-family="Liberation Sans" font-size="5" fill="#2a4875" text-anchor="end" stroke="#2a4875" stroke-width="0.05">0.50%</text>
<line x1="467" x2="767" y1="328.6" y2="328.6" stroke="#d9d9d9" stroke-width="1"/>
<text x="463" y="330.7" font-family="Liberation Sans" font-size="5" fill="#2a4875" text-anchor="end" stroke="#2a4875" stroke-width="0.05">0.00%</text>
<line x1="467" x2="767" y1="350.9" y2="350.9" stroke="#d9d9d9" stroke-width="1"/>
<text x="463" y="353.0" font-family="Liberation Sans" font-size="5" fill="#2a4875" text-anchor="end" stroke="#2a4875" stroke-width="0.05">-0.50%</text>
<line x1="467" x2="767" y1="373.2" y2="373.2" stroke="#d9d9d9" stroke-width="1"/>
<text x="463" y="375.3" font-family="Liberation Sans" font-size="5" fill="#2a4875" text-anchor="end" stroke="#2a4875" stroke-width="0.05">-1.00%</text>
<line x1="467" x2="767" y1="395.5" y2="395.5" stroke="#d9d9d9" stroke-width="1"/>
<text x="463" y="397.6" font-family="Liberation Sans" font-size="5" fill="#2a4875" text-anchor="end" stroke="#2a4875" stroke-width="0.05">-1.50%</text>
<text x="472.6" y="337.5" font-family="Liberation Sans" font-size="5" fill="#2a4875" text-anchor="middle" stroke="#2a4875" stroke-width="0.05">3M</text>
<text x="491.9" y="337.5" font-family="Liberation Sans" font-size="5" fill="#2a4875" text-anchor="middle" stroke="#2a4875" stroke-width="0.05">2Y</text>
<text x="511.1" y="337.5" font-family="Liberation Sans" font-size="5" fill="#2a4875" text-anchor="middle" stroke="#2a4875" stroke-width="0.05">4Y</text>
<text x="530.4" y="337.5" font-family="Liberation Sans" font-size="5" fill="#2a4875" text-anchor="middle" stroke="#2a4875" stroke-width="0.05">6Y</text>
<text x="549.6" y="337.5" font-family="Liberation Sans" font-size="5" fill="#2a4875" text-anchor="middle" stroke="#2a4875" stroke-width="0.05">8Y</text>
<text x="568.9" y="337.5" font-family="Liberation Sans" font-size="5" fill="#2a4875" text-anchor="middle" stroke="#2a4875" stroke-width="0.05">10Y</text>
<text x="588.2" y="337.5" font-family="Liberation Sans" font-size="5" fill="#2a4875" text-anchor="middle" stroke="#2a4875" stroke-width="0.05">12Y</text>
<text x="607.4" y="337.5" font-family="Liberation Sans" font-size="5" fill="#2a4875" text-anchor="middle" stroke="#2a4875" stroke-width="0.05">14Y</text>
<text x="626.7" y="337.5" font-family="Liberation Sans" font-size="5" fill="#2a4875" text-anchor="middle" stroke="#2a4875" stroke-width="0.05">16Y</text>
<text x="645.9" y="337.5" font-family="Liberation Sans" font-size="5" fill="#2a4875" text-anchor="middle" stroke="#2a4875" stroke-width="0.05">18Y</text>
<text x="665.2" y="337.5" font-family="Liberation Sans" font-size="5" fill="#2a4875" text-anchor="middle" stroke="#2a4875" stroke-width="0.05">20Y</text>
<text x="684.5" y="337.5" font-family="Liberation Sans" font-size="5" fill="#2a4875" text-anchor="middle" stroke="#2a4875" stroke-width="0.05">22Y</text>
<text x="703.7" y="337.5" font-family="Liberation Sans" font-size="5" fill="#2a4875" text-anchor="middle" stroke="#2a4875" stroke-width="0.05">24Y</text>
<text x="723.0" y="337.5" font-family="Liberation Sans" font-size="5" fill="#2a4875" text-anchor="middle" stroke="#2a4875" stroke-width="0.05">26Y</text>
<text x="742.2" y="337.5" font-family="Liberation Sans" font-size="5" fill="#2a4875" text-anchor="middle" stroke="#2a4875" stroke-width="0.05">28Y</text>
<text x="761.5" y="337.5" font-family="Liberation Sans" font-size="5" fill="#2a4875" text-anchor="middle" stroke="#2a4875" stroke-width="0.05">30Y</text>
<polyline points="472.6,365.6 482.2,356.7 491.9,356.9 501.5,357.1 511.1,355.4 520.8,350.9 530.4,349.6 540.0,346.0 549.6,341.1 559.3,335.3 568.9,330.4 617.1,324.1 665.2,315.2 713.4,309.0 761.5,305.4" fill="none" stroke="#44699c" stroke-width="1.2" stroke-linejoin="round"/>
<polyline points="472.6,352.7 482.2,346.4 491.9,344.7 501.5,342.9 511.1,337.5 520.8,331.3 530.4,326.8 540.0,322.4 549.6,315.2 559.3,308.1 568.9,300.5 617.1,286.2 665.2,274.2 713.4,265.7 761.5,262.1" fill="none" stroke="#e5302a" stroke-width="1.5" stroke-dasharray="4,3"/>
<polyline points="472.6,334.8 482.2,330.8 491.9,327.7 501.5,324.1 511.1,310.8 520.8,299.2 530.4,287.6 540.0,282.2 549.6,276.9 559.3,263.5 568.9,258.1 617.1,237.6 665.2,224.7 713.4,210.4 761.5,208.6" fill="none" stroke="#1f3c6c" stroke-width="1.5" stroke-dasharray="4,3"/>
<polyline points="472.6,345.1 482.2,339.8 491.9,332.2 501.5,328.6 511.1,325.0 520.8,317.0 530.4,309.0 540.0,300.9 549.6,292.5 559.3,284.4 568.9,276.4 617.1,259.0 665.2,246.5 713.4,235.8 761.5,228.9" fill="none" stroke="#1f3c6c" stroke-width="1.5" stroke-linejoin="round"/>
<line x1="510.5" x2="524" y1="406.8" y2="406.8" stroke="#1f3c6c" stroke-width="1.5"/>
<text x="526.8" y="408.5" font-family="Liberation Sans" font-size="5.1" fill="#2a4875">ITALY</text>
<line x1="548" x2="562.7" y1="406.8" y2="406.8" stroke="#44699c" stroke-width="1.2"/>
<text x="564.5" y="408.5" font-family="Liberation Sans" font-size="5.1" fill="#2a4875">GERMANY</text>
<line x1="597.7" x2="611" y1="406.8" y2="406.8" stroke="#1f3c6c" stroke-width="1.5" stroke-dasharray="4,3"/>
<text x="614" y="408.5" font-family="Liberation Sans" font-size="5.1" fill="#2a4875">ITALY dic-15</text>
<line x1="650.7" x2="664.5" y1="406.8" y2="406.8" stroke="#e5302a" stroke-width="1.5" stroke-dasharray="4,3"/>
<text x="667.9" y="408.5" font-family="Liberation Sans" font-size="5.1" fill="#2a4875">GERMANY dic-15</text>
</svg>
</body></html>
